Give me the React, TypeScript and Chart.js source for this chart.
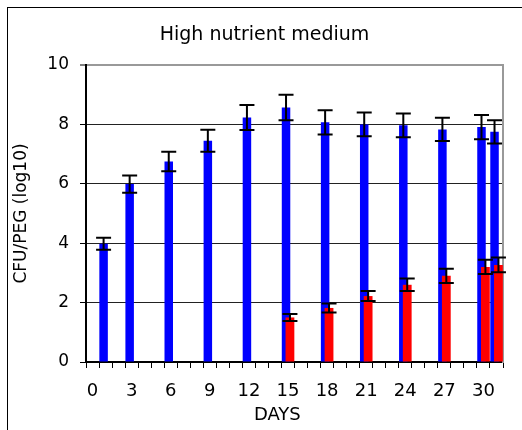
import { useEffect, useRef } from 'react';
import { Chart, registerables } from 'chart.js';

Chart.register(...registerables);

const TITLE = 'High nutrient medium';
const X_TITLE = 'DAYS';
const Y_TITLE = 'CFU/PEG (log10)';

const DAY_SLOTS = [0, 1, 2, 3, 4, 5, 6, 7, 8, 9, 10, 11, 12, 13, 14, 15, 16, 17, 18, 19, 20, 21, 22, 23, 24, 25, 26, 27, 28, 29, 30, 31];
const LABELLED_DAYS = [0, 3, 6, 9, 12, 15, 18, 21, 24, 27, 30];

const BLUE_DAYS = [1, 3, 6, 9, 12, 15, 18, 21, 24, 27, 30, 31];
const BLUE_MEANS = [3.98, 5.99, 6.75, 7.45, 8.23, 8.57, 8.07, 8.0, 7.97, 7.83, 7.91, 7.75];
const BLUE_ERRORS = [0.2, 0.29, 0.33, 0.37, 0.42, 0.43, 0.41, 0.4, 0.4, 0.39, 0.41, 0.39];

const RED_DAYS = [15, 18, 21, 24, 27, 30, 31];
const RED_MEANS = [1.5, 1.82, 2.22, 2.6, 2.9, 3.2, 3.27];
const RED_ERRORS = [0.12, 0.15, 0.17, 0.21, 0.24, 0.24, 0.25];

const Y_MIN = 0;
const Y_MAX = 10;
const Y_STEP = 2;

const X_MIN = -0.5;
const X_MAX = 31.5;
const BAR_SHIFT = 0.15; // the two series overlap inside one day slot
const CAP_HALF = 7.5;

const FONT = 'DejaVu Sans';

const errorBarPlugin = {
  id: 'errorBars',
  afterDatasetsDraw(chart: any) {
    const ctx = chart.ctx;
    const y = chart.scales.y;
    chart.data.datasets.forEach((ds: any, i: number) => {
      const meta = chart.getDatasetMeta(i);
      meta.data.forEach((el: any, j: number) => {
        const v = ds.data[j].y;
        const e = ds.errors[j];
        const yTop = y.getPixelForValue(v + e);
        const yBot = y.getPixelForValue(v - e);
        ctx.save();
        ctx.strokeStyle = '#000';
        ctx.lineWidth = 2;
        ctx.beginPath();
        ctx.moveTo(el.x, yTop);
        ctx.lineTo(el.x, yBot);
        ctx.moveTo(el.x - CAP_HALF, yTop);
        ctx.lineTo(el.x + CAP_HALF, yTop);
        ctx.moveTo(el.x - CAP_HALF, yBot);
        ctx.lineTo(el.x + CAP_HALF, yBot);
        ctx.stroke();
        ctx.restore();
      });
    });
  },
};

export default function App() {
  const ref = useRef<HTMLCanvasElement>(null);

  useEffect(() => {
    if (!ref.current) return;
    Chart.defaults.font.family = FONT;
    Chart.defaults.color = '#000';

    const chart = new Chart(ref.current, {
      type: 'bar',
      data: {
        datasets: [
          {
            label: 'blue',
            data: BLUE_DAYS.map((d, i) => ({ x: d - BAR_SHIFT, y: BLUE_MEANS[i] })),
            errors: BLUE_ERRORS,
            backgroundColor: '#0000FF',
            borderWidth: 0,
            grouped: false,
            categoryPercentage: 1,
            barPercentage: 3,
            maxBarThickness: 8.5,
            order: 2,
          } as any,
          {
            label: 'red',
            data: RED_DAYS.map((d, i) => ({ x: d + BAR_SHIFT, y: RED_MEANS[i] })),
            errors: RED_ERRORS,
            backgroundColor: '#FF0000',
            borderWidth: 0,
            grouped: false,
            categoryPercentage: 1,
            barPercentage: 3,
            maxBarThickness: 8.8,
            order: 1,
          } as any,
        ],
      },
      options: {
        animation: false,
        responsive: false,
        devicePixelRatio: 1,
        layout: { padding: { left: 8, right: 1, top: 8, bottom: 0 } },
        plugins: {
          legend: { display: false },
          tooltip: { enabled: false },
          title: {
            display: true,
            text: TITLE,
            color: '#000',
            font: { family: FONT, size: 19, weight: 'normal' },
            padding: { top: 15.6, bottom: 18.6 },
          },
        },
        scales: {
          x: {
            type: 'linear',
            position: 'bottom',
            offset: false,
            min: X_MIN,
            max: X_MAX,
            afterBuildTicks: (scale: any) => {
              scale.ticks = DAY_SLOTS.map((v) => ({ value: v }));
            },
            afterFit: (scale: any) => {
              scale.height = 68;
            },
            ticks: {
              autoSkip: false,
              maxRotation: 0,
              padding: 13,
              color: '#000',
              font: { family: FONT, size: 18 },
              callback: (value: any) => (LABELLED_DAYS.includes(value) ? String(value) : ''),
            },
            grid: {
              offset: true,
              drawOnChartArea: false,
              drawTicks: true,
              tickLength: 6,
              color: '#000',
              lineWidth: 1,
            },
            border: { display: true, color: '#000', width: 2 },
            title: {
              display: true,
              text: X_TITLE + '      ',
              color: '#000',
              font: { family: FONT, size: 18 },
              padding: { top: 0, bottom: 4 },
            },
          },
          y: {
            type: 'linear',
            position: 'left',
            min: Y_MIN,
            max: Y_MAX,
            afterFit: (scale: any) => {
              scale.width = 78;
            },
            ticks: {
              stepSize: Y_STEP,
              padding: 11,
              color: '#000',
              font: { family: FONT, size: 17 },
            },
            grid: {
              drawOnChartArea: true,
              drawTicks: true,
              tickLength: 6,
              color: (c: any) => (c.tick && c.tick.value === Y_MAX ? '#999' : '#222'),
              lineWidth: (c: any) => (c.tick && c.tick.value === Y_MAX ? 2 : 1),
              tickColor: '#000',
              tickWidth: 1,
            },
            border: { display: true, color: '#000', width: 2 },
            title: {
              display: true,
              text: Y_TITLE,
              color: '#000',
              font: { family: FONT, size: 17 },
              padding: { top: 3, bottom: 0 },
            },
          },
          yRight: {
            type: 'linear',
            position: 'right',
            min: Y_MIN,
            max: Y_MAX,
            afterFit: (scale: any) => {
              scale.width = 18;
            },
            ticks: { display: false },
            grid: { drawOnChartArea: false, drawTicks: false },
            border: { display: true, color: '#999', width: 2 },
          },
        },
      } as any,
      plugins: [errorBarPlugin],
    });

    return () => chart.destroy();
  }, []);

  return (
    <div style={{ position: 'absolute', left: 0, top: 0, width: 522, height: 430, background: '#fff', overflow: 'hidden' }}>
      <div
        style={{
          position: 'absolute',
          left: 7,
          top: 7,
          width: 600,
          height: 600,
          borderLeft: '1px solid #000',
          borderTop: '1px solid #000',
          pointerEvents: 'none',
        }}
      />
      <canvas ref={ref} width={522} height={430} style={{ position: 'absolute', left: 0, top: 0, display: 'block' }} />
    </div>
  );
}
